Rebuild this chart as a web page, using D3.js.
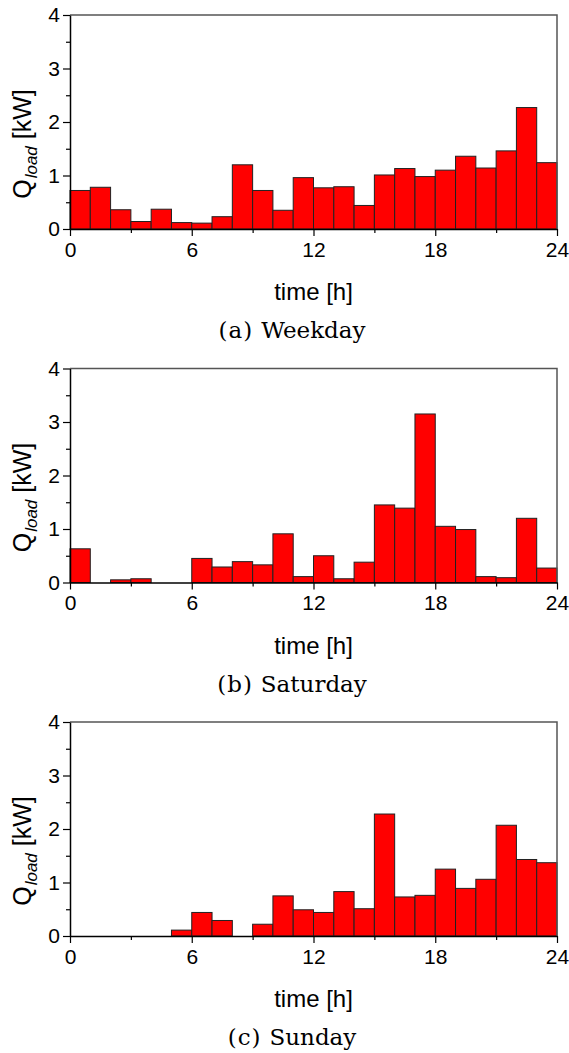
<!DOCTYPE html>
<html lang="en">
<head>
    <meta charset="UTF-8">
    <title>Q_load profiles</title>
    <script src="https://cdnjs.cloudflare.com/ajax/libs/d3/7.8.5/d3.min.js"></script>
    <style>
        * { margin: 0; padding: 0; }
        body { background: white; }
        svg text { font-family: 'Liberation Sans', Arial, sans-serif; fill: #000; }
        svg text.caption { font-family: 'DejaVu Serif', 'Liberation Serif', serif; }
    </style>
</head>
<body>
    <div id="chart"></div>
    <script>
        // hourly load [kW], one bar per hour bin
        const hours = d3.range(24);
        const weekday = [0.72, 0.78, 0.36, 0.14, 0.37, 0.12, 0.11, 0.23, 1.20, 0.72, 0.35, 0.96,
                         0.77, 0.79, 0.44, 1.01, 1.13, 0.98, 1.10, 1.36, 1.14, 1.46, 2.27, 1.24];
        const saturday = [0.63, 0, 0.05, 0.07, 0, 0, 0.45, 0.29, 0.39, 0.33, 0.91, 0.11,
                          0.50, 0.07, 0.38, 1.45, 1.39, 3.15, 1.05, 0.99, 0.11, 0.09, 1.20, 0.27];
        const sunday = [0, 0, 0, 0, 0, 0.11, 0.44, 0.29, 0, 0.22, 0.75, 0.49,
                        0.44, 0.83, 0.51, 2.28, 0.73, 0.76, 1.25, 0.89, 1.06, 2.07, 1.43, 1.37];

        const captionTags = ['(a)', '(b)', '(c)'];
        const captionNames = ['Weekday', 'Saturday', 'Sunday'];
        const series = [weekday, saturday, sunday];

        const xTicks = [0, 6, 12, 18, 24];
        const xMinor = [3, 9, 15, 21];
        const yTicks = [0, 1, 2, 3, 4];
        const yMinor = [0.5, 1.5, 2.5, 3.5];

        const width = 569, height = 1053;
        const left = 70, right = 557;
        const panelTops = [15, 368.5, 722];
        const ph = 214;

        const svg = d3.select('#chart').append('svg')
            .attr('width', width)
            .attr('height', height);

        const x = d3.scaleLinear().domain([0, 24]).range([left, right]);
        const y = d3.scaleLinear().domain([0, 4]).range([ph, 0]);

        series.forEach((vals, i) => {
            const g = svg.append('g').attr('transform', `translate(0,${panelTops[i]})`);

            // bars
            g.selectAll('.bar')
                .data(hours)
                .enter()
                .append('rect')
                .attr('class', 'bar')
                .attr('x', h => x(h))
                .attr('width', h => x(h + 1) - x(h))
                .attr('y', h => y(vals[h]))
                .attr('height', h => ph - y(vals[h]))
                .attr('fill', '#ff0000')
                .attr('stroke', '#222')
                .attr('stroke-width', 1);

            // top / right frame
            g.append('path')
                .attr('d', `M${left},0H${right}V${ph}`)
                .attr('fill', 'none')
                .attr('stroke', '#555')
                .attr('stroke-width', 1.5);

            // minor ticks
            g.append('g')
                .attr('transform', `translate(0,${ph})`)
                .call(d3.axisBottom(x).tickValues(xMinor).tickSize(4).tickFormat(''))
                .call(a => a.select('.domain').remove());
            g.append('g')
                .attr('transform', `translate(${left},0)`)
                .call(d3.axisLeft(y).tickValues(yMinor).tickSize(4).tickFormat(''))
                .call(a => a.select('.domain').remove());

            // major axes
            const xa = g.append('g')
                .attr('transform', `translate(0,${ph})`)
                .call(d3.axisBottom(x).tickValues(xTicks).tickSize(7).tickSizeOuter(0)
                    .tickPadding(6).tickFormat(d3.format('d')));
            const ya = g.append('g')
                .attr('transform', `translate(${left},0)`)
                .call(d3.axisLeft(y).tickValues(yTicks).tickSize(7).tickSizeOuter(0)
                    .tickPadding(3).tickFormat(d3.format('d')));

            [xa, ya].forEach(a => {
                a.select('.domain').attr('stroke', '#000').attr('stroke-width', 1.5);
                a.selectAll('.tick text').attr('font-size', 21).attr('font-family', null);
            });
            g.selectAll('.tick line').attr('stroke', '#000').attr('stroke-width', 1.2);

            // axis titles
            g.append('text')
                .attr('x', (left + right) / 2)
                .attr('y', ph + 71)
                .attr('text-anchor', 'middle')
                .attr('font-size', 24)
                .text('time [h]');

            const yl = g.append('text')
                .attr('transform', `translate(31,${129}) rotate(-90)`)
                .attr('text-anchor', 'middle')
                .attr('font-size', 25);
            yl.append('tspan').text('Q');
            yl.append('tspan').attr('font-size', 17).attr('font-style', 'italic')
                .attr('dx', 1).attr('dy', 6).text('load');
            yl.append('tspan').attr('dy', -6).text(' [kW]');

            // caption
            const cap = g.append('text')
                .attr('class', 'caption')
                .attr('x', 292)
                .attr('y', ph + 109)
                .attr('text-anchor', 'middle')
                .attr('font-size', 23);
            cap.append('tspan').attr('letter-spacing', 1).text(captionTags[i]);
            cap.append('tspan').attr('dx', 8).text(captionNames[i]);
        });
    </script>
</body>
</html>
